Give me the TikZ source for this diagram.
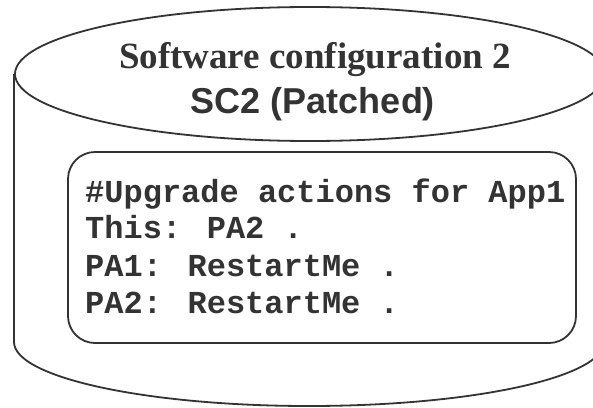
\documentclass[tikz,border=0pt]{standalone}
\usepackage{fontspec}
\setmainfont{Liberation Serif}
\newfontfamily\arialfont{Liberation Sans}
\newfontfamily\courfont{Liberation Mono}
\definecolor{ink}{HTML}{333333}
\begin{document}
\begin{tikzpicture}[x=1pt,y=-1pt,
  outline/.style={draw=ink,line width=1.8pt},
  titleA/.style={anchor=base,text=ink,font=\fontsize{37}{44}\selectfont\bfseries},
  titleB/.style={anchor=base,text=ink,font=\arialfont\fontsize{36}{44}\selectfont\bfseries},
  codeline/.style={anchor=base west,text=ink,inner sep=0pt,font=\courfont\fontsize{32}{37}\selectfont\bfseries}]
\useasboundingbox (0,0) rectangle (593,407);
\clip (0,0) rectangle (593,407);
\fill[white] (0,0) rectangle (593,407);
% cylinder body
\draw[outline] (14,74) -- (14,342) arc[start angle=180,end angle=0,x radius=295,y radius=64] -- (605,74);
\draw[outline,fill=white] (310,74) ellipse[x radius=295,y radius=67];
% title
\node[titleA] (t1) at (315,68) {Software configuration 2};
\node[titleB] (t2) at (313,113) {SC2 (Patched)};
% inner box
\node[outline,rounded corners=27pt,minimum width=508pt,minimum height=191pt,inner sep=0pt] (box) at (322,247.5) {};
\node[codeline] (c1) at (85,202) {\#Upgrade actions for App1};
\node[codeline] (c2) at (85,238) {This: PA2 .};
\node[codeline] (c3) at (85,276) {PA1: RestartMe .};
\node[codeline] (c4) at (85,313) {PA2: RestartMe .};
\end{tikzpicture}
\end{document}
